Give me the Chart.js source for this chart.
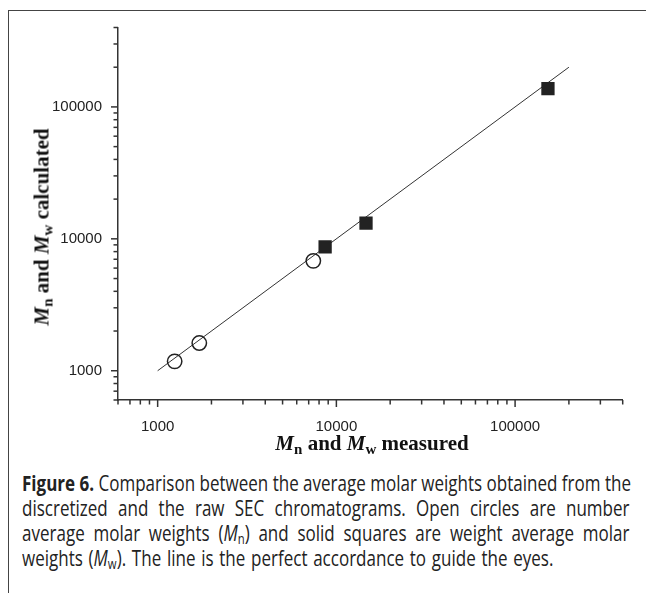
<!DOCTYPE html>
<html><head><meta charset="utf-8">
<script src="https://cdn.jsdelivr.net/npm/chart.js@4.4.1/dist/chart.umd.min.js"></script>
<style>
html,body{margin:0;padding:0;background:#fff;width:646px;height:593px;overflow:hidden;}
#frame{position:absolute;left:8px;top:10px;width:700px;height:700px;border-left:1.5px solid #444;border-top:1.5px solid #444;}
#wrap{position:absolute;left:0;top:0;width:646px;height:440px;}
.title{position:absolute;font-family:"Liberation Serif","Times New Roman",serif;font-weight:bold;font-size:21px;color:#111;white-space:nowrap;}
.title i{font-style:italic}
.title sub{font-size:15px;line-height:0;vertical-align:-4px}
#xt{left:372px;top:443px;transform:translate(-50%,-50%);}
#yt{left:42px;top:227px;transform:translate(-50%,-50%) rotate(-90deg);}
#cap{position:absolute;left:22px;top:471px;width:750px;transform:scaleX(0.81);transform-origin:0 0;font-family:"Open Sans",sans-serif;font-size:21px;line-height:25px;color:#222;}
#cap div{text-align:justify;text-align-last:justify;white-space:nowrap;}
#cap div.last{text-align-last:left;word-spacing:1.6px;}
#cap i{font-style:italic}
#cap sub{font-size:14px;line-height:0;vertical-align:-3px}
</style></head>
<body>
<div id="frame"></div>
<div id="wrap"><canvas id="c" width="646" height="440"></canvas></div>
<div class="title" id="xt"><i>M</i><sub>n</sub> and <i>M</i><sub>w</sub> measured</div>
<div class="title" id="yt"><i>M</i><sub>n</sub> and <i>M</i><sub>w</sub> calculated</div>
<div id="cap">
<div><b>Figure 6.</b> Comparison between the average molar weights obtained from the</div>
<div>discretized and the raw SEC chromatograms. Open circles are number</div>
<div>average molar weights (<i>M</i><sub>n</sub>) and solid squares are weight average molar</div>
<div class="last">weights (<i>M</i><sub>w</sub>). The line is the perfect accordance to guide the eyes.</div>
</div>
<script>
// Data
const mnMeasured   = [1245, 1710, 7430];
const mnCalculated = [1178, 1622, 6810];
const mwMeasured   = [8650, 14650, 152700];
const mwCalculated = [8690, 13150, 137700];
const lineX = [1000, 200000];
const lineY = [1000, 200000];
const tickValues = [600,700,800,900,1000,2000,3000,4000,5000,6000,7000,8000,9000,
  10000,20000,30000,40000,50000,60000,70000,80000,90000,100000,200000,300000,400000];
const tickLabels = ['1000','10000','100000'];
const axisMin = 600, axisMax = 400000;

const pts = (xs, ys) => xs.map((x, i) => ({x: x, y: ys[i]}));

const tickMarks = {
  id: 'tickMarks',
  afterDraw(chart) {
    const ctx = chart.ctx;
    ctx.save();
    ctx.strokeStyle = '#333';
    ctx.lineWidth = 1.5;
    const xs = chart.scales.x, ys = chart.scales.y;
    tickValues.forEach(v => {
      const major = tickLabels.includes(String(v));
      const len = major ? 7 : 4.5;
      const px = xs.getPixelForValue(v);
      ctx.beginPath(); ctx.moveTo(px, xs.top); ctx.lineTo(px, xs.top + len); ctx.stroke();
      const py = ys.getPixelForValue(v);
      ctx.beginPath(); ctx.moveTo(ys.right, py); ctx.lineTo(ys.right - len, py); ctx.stroke();
    });
    ctx.restore();
  }
};

const setTicks = s => { s.ticks = tickValues.map(v => ({value: v, major: tickLabels.includes(String(v))})); };
const lbl = v => tickLabels.includes(String(v)) ? String(v) : '';
const tickFont = {family: '"Liberation Sans", Arial, sans-serif', size: 15};

new Chart(document.getElementById('c'), {
  type: 'scatter',
  data: {
    datasets: [
      {label: 'Mw', data: pts(mwMeasured, mwCalculated), pointStyle: 'rect', pointRadius: 9.4,
       backgroundColor: '#222', borderColor: '#222', borderWidth: 0, order: 1},
      {label: 'Mn', data: pts(mnMeasured, mnCalculated), pointStyle: 'circle', pointRadius: 7.2,
       backgroundColor: 'rgba(0,0,0,0)', borderColor: '#222', borderWidth: 1.5, order: 2},
      {label: 'line', data: pts(lineX, lineY), showLine: true, pointRadius: 0,
       borderColor: '#333', borderWidth: 1, order: 3}
    ]
  },
  options: {
    responsive: false, animation: false,
    layout: {padding: {left: 0, right: 23.3, top: 27.5, bottom: 0}},
    plugins: {legend: {display: false}, tooltip: {enabled: false}},
    scales: {
      x: {type: 'logarithmic', min: axisMin, max: axisMax,
          afterBuildTicks: setTicks, afterFit: s => { s.height = 40; },
          grid: {display: false}, border: {display: true, color: '#333', width: 1.5},
          ticks: {callback: lbl, autoSkip: false, maxRotation: 0, padding: 10, color: '#222', font: tickFont}},
      y: {type: 'logarithmic', min: axisMin, max: axisMax,
          afterBuildTicks: setTicks, afterFit: s => { s.width = 118; },
          grid: {display: false}, border: {display: true, color: '#333', width: 1.5},
          ticks: {callback: lbl, autoSkip: false, padding: 8, color: '#222', font: tickFont}}
    }
  },
  plugins: [tickMarks]
});
</script>
</body></html>
